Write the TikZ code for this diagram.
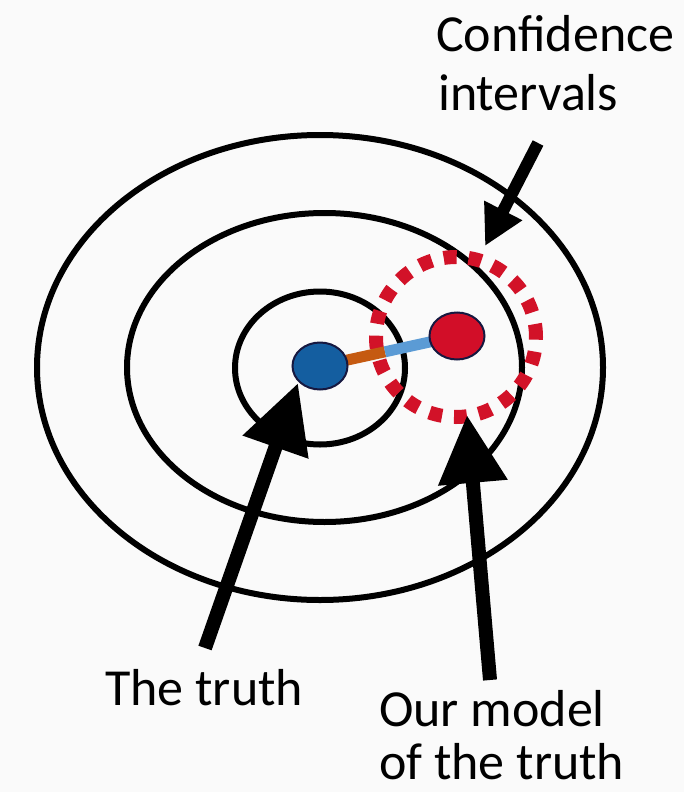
\documentclass[tikz,border=0pt]{standalone}
\usepackage{fontspec}
\setmainfont{Carlito}
\usetikzlibrary{shapes.geometric,arrows.meta}
\definecolor{bgc}{RGB}{250,250,250}
\definecolor{dotblue}{RGB}{20,94,160}
\definecolor{dotred}{RGB}{210,14,40}
\definecolor{dotedge}{RGB}{22,24,64}
\definecolor{linkorange}{RGB}{197,90,17}
\definecolor{linkblue}{RGB}{91,155,213}
\definecolor{cired}{RGB}{210,18,40}
\pgfdeclarelayer{bg}
\pgfdeclarelayer{fg}
\pgfsetlayers{bg,main,fg}
\tikzset{
  ring/.style={draw=black, line width=6pt, ellipse, inner sep=0pt, outer sep=0pt},
  cidash/.style={draw=cired, line width=14pt, circle, inner sep=0pt, outer sep=0pt, dash pattern=on 13pt off 12pt},
  dotbox/.style={draw=dotedge, line width=2pt, ellipse, inner sep=0pt, outer sep=0pt, minimum width=55pt, minimum height=47pt},
  linkline/.style={line width=11pt},
  bigarrow/.style={line width=14pt, -{Triangle[length=68pt,width=66pt]}},
  smallarrow/.style={line width=12pt, -{Triangle[length=40pt,width=40pt]}},
  label/.style={font=\fontsize{52}{62}\selectfont, inner sep=0pt, anchor=base west}
}
\begin{document}
\begin{tikzpicture}[x=1pt,y=-1pt]
\useasboundingbox (0,0) rectangle (684,792);
\begin{pgfonlayer}{bg}
\fill[bgc] (0,0) rectangle (684,792);
\end{pgfonlayer}
% rings
\node[ring, minimum width=566pt, minimum height=465pt] (outer) at (320,367.5) {};
\node[ring, minimum width=395pt, minimum height=309pt] (middle) at (324.5,367.5) {};
\node[ring, minimum width=170pt, minimum height=153pt] (inner) at (320,368) {};
% confidence interval circle
\node[cidash, minimum size=160pt] (ci) at (456,337) {};
% dots
\begin{pgfonlayer}{fg}
\node[dotbox, fill=dotblue] (truth) at (320,366) {};
\node[dotbox, fill=dotred] (model) at (457,336) {};
\end{pgfonlayer}
% link
\coordinate (mid) at (385,351.8);
\draw[linkline, linkorange] (truth) -- (mid);
\draw[linkline, linkblue] (mid) -- (model);
% labels
\node[label] (conf1) at (436,52) {Confidence};
\node[label] (conf2) at (438,110) {intervals};
\node[label] (truthlbl) at (105,705) {The truth};
\node[label] (model1) at (379,726) {Our model};
\node[label] (model2) at (379,779) {of the truth};
% arrows
\coordinate (truthtail) at (205,648);
\coordinate (truthtip) at (298,383);
\coordinate (modeltail) at (490,680);
\coordinate (modeltip) at (467,415);
\coordinate (citail) at (538,143);
\coordinate (citip) at (485,246);
\begin{pgfonlayer}{fg}
\draw[bigarrow] (truthtail) -- (truthtip);
\draw[bigarrow] (modeltail) -- (modeltip);
\draw[smallarrow] (citail) -- (citip);
\end{pgfonlayer}
\end{tikzpicture}
\end{document}
